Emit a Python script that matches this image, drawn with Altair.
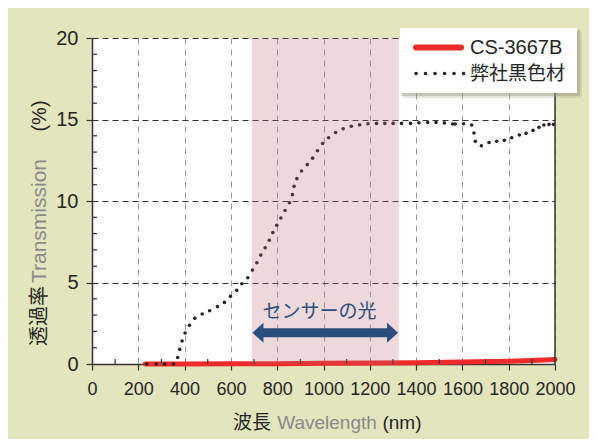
import altair as alt
import pandas as pd

# ---------------- data ----------------
wl_black = [236, 277, 314, 352, 370, 379, 389, 402, 421, 444, 476, 508, 542, 572,
            598, 625, 647, 673, 693, 712, 729, 748, 766, 781, 798, 816, 834, 853,
            866, 873, 885, 905, 930, 953, 974, 996, 1022, 1052, 1085, 1120, 1156,
            1192, 1229, 1265, 1301, 1337, 1376, 1412, 1450, 1486, 1522, 1558, 1569,
            1605, 1640, 1650, 1656, 1682, 1715, 1748, 1781, 1813, 1846, 1875, 1905,
            1931, 1952, 1974, 1994]
t_black = [0.0, 0.0, 0.0, 0.0, 0.40, 0.90, 1.41, 1.90, 2.37, 2.80, 3.07, 3.27, 3.52, 3.78,
           4.15, 4.52, 4.92, 5.29, 5.76, 6.21, 6.68, 7.13, 7.59, 8.06, 8.51, 8.96, 9.42, 9.89,
           10.39, 10.90, 11.37, 11.84, 12.23, 12.63, 13.08, 13.53, 13.88, 14.20, 14.43, 14.59, 14.67,
           14.74, 14.76, 14.76, 14.76, 14.76, 14.76, 14.80, 14.82, 14.82, 14.79, 14.72, 14.72,
           14.74, 14.66, 14.17, 13.66, 13.39, 13.59, 13.66, 13.72, 13.88, 14.05, 14.15, 14.33,
           14.52, 14.66, 14.70, 14.70]

wl_red = [230, 400, 600, 800, 1000, 1200, 1400, 1600, 1800, 1900, 2000]
t_red = [0.0, 0.0, 0.01, 0.02, 0.04, 0.06, 0.08, 0.12, 0.17, 0.21, 0.27]

x_minor = [100, 300, 500, 700, 900, 1100, 1300, 1500, 1700, 1900]
y_minor = [1, 2, 3, 4, 6, 7, 8, 9, 11, 12, 13, 14, 16, 17, 18, 19]

band_range = [690, 1325]
arrow_range = [693, 1322]
arrow_shaft = [735, 1280]
arrow_y = 1.92
sensor_label = "センサーの光"
sensor_pos = [983, 3.2]

series_names = ["CS-3667B", "弊社黒色材"]

# ---------------- chart ----------------
W, H = 463, 326
XS = alt.Scale(domain=[0, 2000], nice=False, zero=False)
YS = alt.Scale(domain=[0, 20], nice=False, zero=False)

SANS = "Liberation Sans, Arial, sans-serif"
CJK = "Noto Sans CJK JP"
DARK = "#262626"
GRAY = "#8a8a8a"

x_axis = alt.Axis(values=list(range(0, 2001, 200)), format="d", labelOverlap=False,
                  labelFlush=False, labelFont=SANS, labelFontSize=18,
                  labelColor=DARK, tickSize=6, tickColor="#333", tickWidth=1.2,
                  domainColor="#333", domainWidth=1.5, gridColor="#9a9a9a",
                  gridDash=[6, 5], gridWidth=1, labelPadding=10, title=None)
y_axis = alt.Axis(values=[0, 5, 10, 15, 20], format="d", labelFlush=False, labelOverlap=False,
                  labelFont=SANS, labelFontSize=20,
                  labelColor=DARK, tickSize=6, tickColor="#333", tickWidth=1.2,
                  domainColor="#333", domainWidth=1.5, gridColor="#333",
                  gridDash=[6, 4], gridWidth=1, labelPadding=8, title=None)

red_df = pd.DataFrame({"wl": wl_red, "t": t_red})
black_df = pd.DataFrame({"wl": wl_black, "t": t_black})

red_line = alt.Chart(red_df).mark_line(color="#ee2a2a", strokeWidth=5, strokeCap="round").encode(
    x=alt.X("wl:Q", scale=XS, axis=x_axis, title=None),
    y=alt.Y("t:Q", scale=YS, axis=y_axis, title=None),
)

black_dots = alt.Chart(black_df).mark_circle(color="#2b2326", size=13, opacity=1).encode(
    x=alt.X("wl:Q", scale=XS, title=None),
    y=alt.Y("t:Q", scale=YS, title=None),
)

right_border = alt.Chart(pd.DataFrame({"x": [2000]})).mark_rule(color="#333", strokeWidth=1.5).encode(
    x=alt.X("x:Q", scale=XS, title=None),
    y=alt.value(0), y2=alt.value(H),
)

xminor = alt.Chart(pd.DataFrame({"x": x_minor})).mark_rule(color="#333", strokeWidth=1.2).encode(
    x=alt.X("x:Q", scale=XS, title=None),
    y=alt.value(H - 5), y2=alt.value(H),
)
yminor = alt.Chart(pd.DataFrame({"y": y_minor})).mark_rule(color="#333", strokeWidth=1.2).encode(
    y=alt.Y("y:Q", scale=YS, title=None),
    x=alt.value(0), x2=alt.value(5),
)

band = alt.Chart(pd.DataFrame({"a": [band_range[0]], "b": [band_range[1]]})).mark_rect(
    color="#b86a74", opacity=0.26).encode(
    x=alt.X("a:Q", scale=XS, title=None), x2="b:Q",
    y=alt.value(0), y2=alt.value(H),
)

ARROW_C = "#2a4f7e"
shaft = alt.Chart(pd.DataFrame({"a": [arrow_shaft[0]], "b": [arrow_shaft[1]], "y": [arrow_y]})).mark_rule(
    color=ARROW_C, strokeWidth=9).encode(
    x=alt.X("a:Q", scale=XS, title=None), x2="b:Q", y=alt.Y("y:Q", scale=YS, title=None),
)
head_l = alt.Chart(pd.DataFrame({"x": [arrow_range[0]], "y": [arrow_y]})).mark_point(
    shape="M 0 0 L 1.1 -1 L 1.1 1 Z", size=400, filled=True, color=ARROW_C, opacity=1).encode(
    x=alt.X("x:Q", scale=XS, title=None), y=alt.Y("y:Q", scale=YS, title=None),
)
head_r = alt.Chart(pd.DataFrame({"x": [arrow_range[1]], "y": [arrow_y]})).mark_point(
    shape="M 0 0 L -1.1 -1 L -1.1 1 Z", size=400, filled=True, color=ARROW_C, opacity=1).encode(
    x=alt.X("x:Q", scale=XS, title=None), y=alt.Y("y:Q", scale=YS, title=None),
)
sensor_text = alt.Chart(pd.DataFrame({"x": [sensor_pos[0]], "y": [sensor_pos[1]], "t": [sensor_label]})).mark_text(
    font=CJK, fontSize=19, color=ARROW_C, align="center", baseline="middle").encode(
    x=alt.X("x:Q", scale=XS, title=None), y=alt.Y("y:Q", scale=YS, title=None), text="t:N",
)

# legend box (drawn by hand)
LX0, LX1, LY0, LY1 = 308, 485, -10, 55
leg_shadow2 = alt.Chart(pd.DataFrame({"k": [0]})).mark_rect(color="#9a9a80", opacity=0.25, cornerRadius=3).encode(
    x=alt.value(LX0 + 2), x2=alt.value(LX1 + 5), y=alt.value(LY0 + 3), y2=alt.value(LY1 + 5))
leg_shadow = alt.Chart(pd.DataFrame({"k": [0]})).mark_rect(color="#8a8a78", opacity=0.35).encode(
    x=alt.value(LX0 + 2), x2=alt.value(LX1 + 3), y=alt.value(LY0 + 2), y2=alt.value(LY1 + 3))
leg_box = alt.Chart(pd.DataFrame({"k": [0]})).mark_rect(color="white").encode(
    x=alt.value(LX0), x2=alt.value(LX1), y=alt.value(LY0), y2=alt.value(LY1))
leg_red = alt.Chart(pd.DataFrame({"k": [0]})).mark_rule(color="#ee2a2a", strokeWidth=6, strokeCap="round").encode(
    x=alt.value(324), x2=alt.value(369), y=alt.value(9.5))
leg_dot = alt.Chart(pd.DataFrame({"k": [0]})).mark_rule(color="#2b2326", strokeWidth=3.6, strokeCap="round",
                                                        strokeDash=[0.1, 9.4]).encode(
    x=alt.value(324), x2=alt.value(372), y=alt.value(35.5))
leg_t1 = alt.Chart(pd.DataFrame({"t": [series_names[0]]})).mark_text(
    font=SANS, fontSize=20, color=DARK, align="left", baseline="middle").encode(
    x=alt.value(378), y=alt.value(10), text="t:N")
leg_t2 = alt.Chart(pd.DataFrame({"t": [series_names[1]]})).mark_text(
    font=CJK, fontSize=19, color=DARK, align="left", baseline="middle").encode(
    x=alt.value(378), y=alt.value(36), text="t:N")

# axis titles (multi-coloured, drawn as text)
def txt(s, x, y, color, font, size, angle=0):
    return alt.Chart(pd.DataFrame({"t": [s]})).mark_text(
        font=font, fontSize=size, color=color, align="center", baseline="middle", angle=angle).encode(
        x=alt.value(x), y=alt.value(y), text="t:N")

ytitle = [
    txt("透過率", -52, 278, DARK, CJK, 20, 270),
    txt("Transmission", -52, 183, GRAY, SANS, 21, 270),
    txt("(%)", -52, 78, DARK, SANS, 20, 270),
]
xtitle = [
    txt("波長", 160, 385, DARK, CJK, 19),
    txt("Wavelength", 235, 385, GRAY, SANS, 19),
    txt("(nm)", 310, 385, DARK, SANS, 19),
]

chart = alt.layer(
    red_line, black_dots, xminor, yminor, right_border, band,
    shaft, head_l, head_r, sensor_text,
    leg_shadow2, leg_shadow, leg_box, leg_red, leg_dot, leg_t1, leg_t2,
    *ytitle, *xtitle,
).properties(
    width=W, height=H,
    autosize=alt.AutoSizeParams(type="none"),
    padding={"left": 84, "top": 30, "right": 34, "bottom": 75},
    background="#e3e5bd",
).configure_view(fill="white", stroke=None)

chart.save("out.html", embed_options={"renderer": "svg", "actions": False})
